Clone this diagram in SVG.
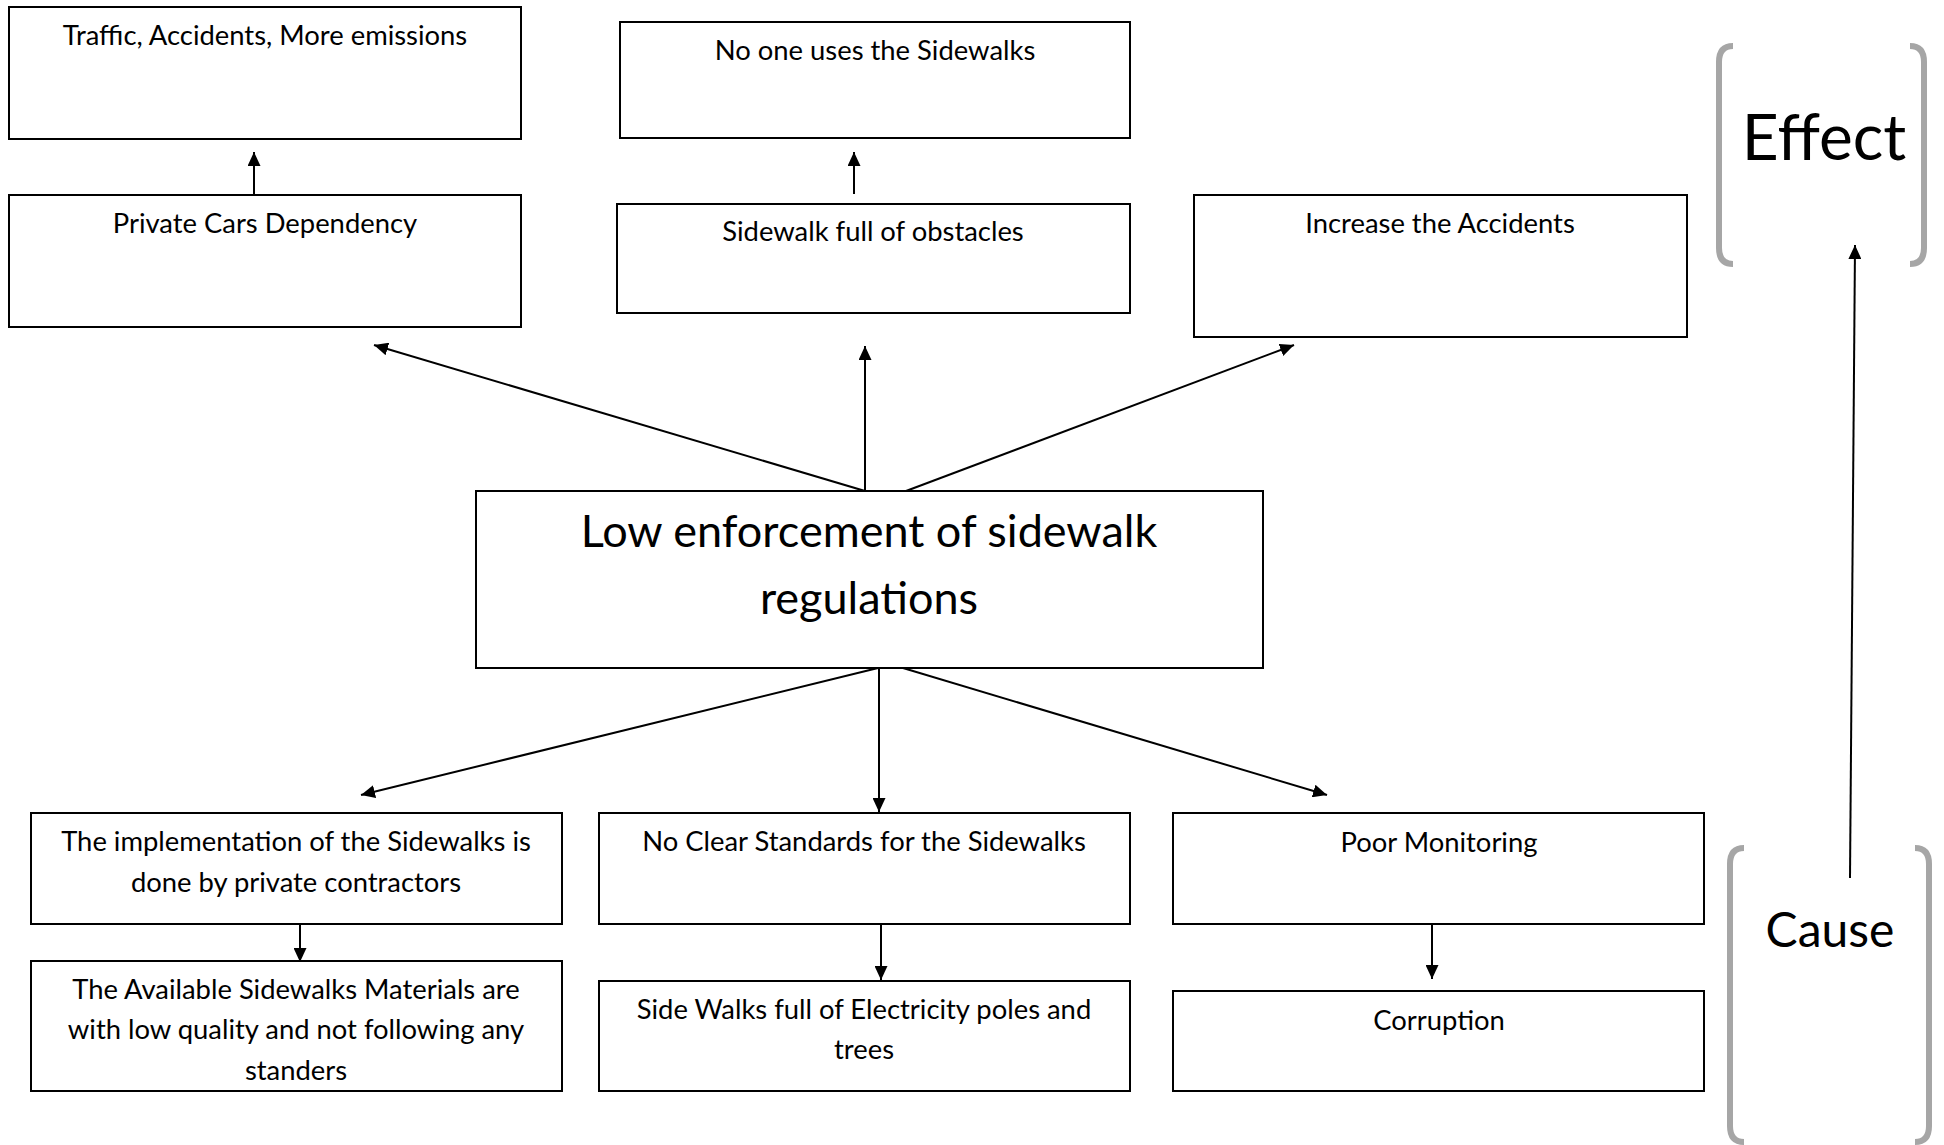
<svg xmlns="http://www.w3.org/2000/svg" width="1944" height="1145" viewBox="0 0 1944 1145">
<style>
.box{fill:#fff;stroke:#000;stroke-width:2}
.t{font-family:Lato,"Carlito","Open Sans",sans-serif;font-size:27.4px;fill:#000;text-anchor:middle}
.big{font-size:45px}
.lbl{font-size:64px}
.lbl2{font-size:48px}
.con{stroke:#000;stroke-width:2;fill:none;marker-end:url(#ah)}
.br{fill:none;stroke:#a6a6a6;stroke-width:6;stroke-linecap:butt}
</style>
<defs>
<marker id="ah" markerUnits="userSpaceOnUse" markerWidth="15" markerHeight="13" refX="14" refY="6.5" orient="auto">
<path d="M0,0 L14,6.5 L0,13 z" fill="#000"/>
</marker>
</defs>
<rect width="1944" height="1145" fill="#fff"/>
<g id="connectors">
<line class="con" x1="254" y1="195" x2="254" y2="152"/>
<line class="con" x1="854" y1="194" x2="854" y2="152"/>
<line class="con" x1="865" y1="491" x2="374" y2="345"/>
<line class="con" x1="865" y1="491" x2="865" y2="346"/>
<line class="con" x1="906" y1="491" x2="1294" y2="345"/>
<line class="con" x1="1850" y1="878" x2="1855" y2="245"/>
<line class="con" x1="878" y1="668" x2="361" y2="795"/>
<line class="con" x1="879" y1="668" x2="879" y2="812"/>
<line class="con" x1="903" y1="668" x2="1327" y2="795"/>
<line class="con" x1="300" y1="924" x2="300" y2="962"/>
<line class="con" x1="881" y1="924" x2="881" y2="980"/>
<line class="con" x1="1432" y1="924" x2="1432" y2="979"/>
</g>
<g id="traffic"><rect class="box" x="9" y="7" width="512" height="132"/><text class="t" x="265" y="45">Traffic, Accidents, More emissions</text></g>
<g id="private-cars"><rect class="box" x="9" y="195" width="512" height="132"/><text class="t" x="265" y="233">Private Cars Dependency</text></g>
<g id="no-one"><rect class="box" x="620" y="22" width="510" height="116"/><text class="t" x="875" y="60">No one uses the Sidewalks</text></g>
<g id="obstacles"><rect class="box" x="617" y="204" width="513" height="109"/><text class="t" x="873" y="241">Sidewalk full of obstacles</text></g>
<g id="accidents"><rect class="box" x="1194" y="195" width="493" height="142"/><text class="t" x="1440" y="233">Increase the Accidents</text></g>
<g id="central"><rect class="box" x="476" y="491" width="787" height="177"/><text class="t big" x="869" y="547">Low enforcement of sidewalk</text><text class="t big" x="869" y="614">regulations</text></g>
<g id="implementation"><rect class="box" x="31" y="813" width="531" height="111"/><text class="t" x="296" y="851">The implementation of the Sidewalks is</text><text class="t" x="296" y="892">done by private contractors</text></g>
<g id="materials"><rect class="box" x="31" y="961" width="531" height="130"/><text class="t" x="296" y="999">The Available Sidewalks Materials are</text><text class="t" x="296" y="1039">with low quality and not following any</text><text class="t" x="296" y="1080">standers</text></g>
<g id="standards"><rect class="box" x="599" y="813" width="531" height="111"/><text class="t" x="864" y="851">No Clear Standards for the Sidewalks</text></g>
<g id="poles"><rect class="box" x="599" y="981" width="531" height="110"/><text class="t" x="864" y="1019">Side Walks full of Electricity poles and</text><text class="t" x="864" y="1059">trees</text></g>
<g id="monitoring"><rect class="box" x="1173" y="813" width="531" height="111"/><text class="t" x="1439" y="852">Poor Monitoring</text></g>
<g id="corruption"><rect class="box" x="1173" y="991" width="531" height="100"/><text class="t" x="1439" y="1030">Corruption</text></g>
<g id="effect">
<path class="br" d="M1733,46 Q1719,46 1719,62 L1719,248 Q1719,264 1733,264"/>
<path class="br" d="M1910,46 Q1924,46 1924,62 L1924,248 Q1924,264 1910,264"/>
<text class="t lbl" x="1824" y="160">Effect</text>
</g>
<g id="cause">
<path class="br" d="M1744,848 Q1730,848 1730,864 L1730,1126 Q1730,1142 1744,1142"/>
<path class="br" d="M1915,848 Q1929,848 1929,864 L1929,1126 Q1929,1142 1915,1142"/>
<text class="t lbl2" x="1830" y="947">Cause</text>
</g>
</svg>
